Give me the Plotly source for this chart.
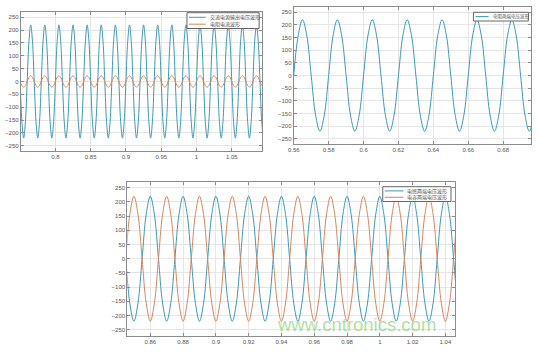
import plotly.graph_objects as go

# ---------------- data ----------------
# one 20 ms cycle, sampled every 2.5 ms (values in V or A)
SAMPLE_STEP = 0.0025
src_voltage_cycle = [0, 156, 220, 156, 0, -156, -220, -156]      # 交流电源输出电压波形
res_current_cycle = [0, 16, 22, 16, 0, -16, -22, -16]            # 电阻电流波形
res_voltage_cycle = [0, 156, 220, 156, 0, -156, -220, -156]      # 电阻两端电压波形
ind_voltage_cycle = [220, 156, 0, -156, -220, -156, 0, 156]      # 电感两端电压波形
cap_voltage_cycle = [-220, -156, 0, 156, 220, 156, 0, -156]      # 电容两端电压波形

# time windows (s) of the three recordings
tl_window = [0.74, 1.10]
tr_window = [0.56, 0.70]
bt_window = [0.84, 1.05]

tl_xticks = [0.8, 0.85, 0.9, 0.95, 1, 1.05]
tr_xticks = [0.56, 0.58, 0.6, 0.62, 0.64, 0.66, 0.68]
bt_xticks = [0.86, 0.88, 0.9, 0.92, 0.94, 0.96, 0.98, 1, 1.02, 1.04]
yticks = [-250, -200, -150, -100, -50, 0, 50, 100, 150, 200, 250]

names = {
    "src": "交流电源输出电压波形",
    "resI": "电阻电流波形",
    "resV": "电阻两端电压波形",
    "ind": "电感两端电压波形",
    "cap": "电容两端电压波形",
}


def series(cycle, window):
    n = int(round((window[1] - window[0]) / SAMPLE_STEP)) + 1
    t = [window[0] + k * SAMPLE_STEP for k in range(n)]
    v = [cycle[k % len(cycle)] for k in range(n)]
    return t, v


BLUE = "#3b9ab8"
ORANGE = "#d9865c"

fig = go.Figure()

traces = [
    (src_voltage_cycle, tl_window, "src", BLUE, "x", "y"),
    (res_current_cycle, tl_window, "resI", ORANGE, "x", "y"),
    (res_voltage_cycle, tr_window, "resV", BLUE, "x2", "y2"),
    (ind_voltage_cycle, bt_window, "ind", BLUE, "x3", "y3"),
    (cap_voltage_cycle, bt_window, "cap", ORANGE, "x3", "y3"),
]
for cyc, win, key, col, xa, ya in traces:
    t, v = series(cyc, win)
    fig.add_trace(go.Scatter(x=t, y=v, name=names[key], mode="lines",
                             line=dict(color=col, width=1, shape="spline"),
                             xaxis=xa, yaxis=ya, showlegend=False))

W, H = 538, 352
tickfont = dict(family="Liberation Sans, Arial, sans-serif", size=6, color="#555")
axis_common = dict(showline=True, linecolor="#8c8c8c", linewidth=1, mirror="ticks",
                   ticks="inside", ticklen=3, tickcolor="#8c8c8c",
                   showgrid=True, gridcolor="#e6e6e6", gridwidth=1,
                   zeroline=False, tickfont=tickfont)


def xd(a, b):
    return [a / W, b / W]


def yd(top, bottom):
    return [1 - bottom / H, 1 - top / H]


fig.update_layout(
    width=W, height=H, margin=dict(l=0, r=0, t=0, b=0),
    paper_bgcolor="white", plot_bgcolor="white", showlegend=False,
    xaxis=dict(domain=xd(15, 259), range=[0.751, 1.093], tickvals=tl_xticks,
               anchor="y", **axis_common),
    yaxis=dict(domain=yd(12, 151), range=[-270, 270], tickvals=yticks,
               anchor="x", **axis_common),
    xaxis2=dict(domain=xd(291, 531), range=[0.56, 0.696], tickvals=tr_xticks,
                anchor="y2", **axis_common),
    yaxis2=dict(domain=yd(7, 144), range=[-270, 270], tickvals=yticks,
                anchor="x2", **axis_common),
    xaxis3=dict(domain=xd(122.7, 454.3), range=[0.846, 1.046], tickvals=bt_xticks,
                anchor="y3", **axis_common),
    yaxis3=dict(domain=yd(182, 335.5), range=[-270, 270], tickvals=yticks,
                anchor="x3", **axis_common),
)

# ---------------- compact MATLAB-style legend boxes (decoration) ----------------
legend_boxes = [
    # box (x0, x1, y0, y1) px, line (x0, x1), text x, font size, rows [(y, key, colour)]
    dict(box=(183, 256, 12.7, 28.5), line=(185, 202), tx=204, fs=5,
         rows=[(17.3, "src", BLUE), (24.2, "resI", ORANGE)]),
    dict(box=(472.7, 528.3, 12.3, 21), line=(475, 488), tx=490, fs=4.5,
         rows=[(16.6, "resV", BLUE)]),
    dict(box=(381, 450, 186.7, 201.5), line=(383, 402), tx=404, fs=5,
         rows=[(190.9, "ind", BLUE), (197.3, "cap", ORANGE)]),
]
for lb in legend_boxes:
    x0, x1, y0, y1 = lb["box"]
    fig.add_shape(type="rect", xref="paper", yref="paper",
                  x0=x0 / W, x1=x1 / W, y0=1 - y1 / H, y1=1 - y0 / H,
                  line=dict(color="#666", width=1), fillcolor="white", layer="above")
    for ry, key, col in lb["rows"]:
        fig.add_shape(type="line", xref="paper", yref="paper",
                      x0=lb["line"][0] / W, x1=lb["line"][1] / W,
                      y0=1 - ry / H, y1=1 - ry / H,
                      line=dict(color=col, width=1), layer="above")
        fig.add_annotation(text=names[key], xref="paper", yref="paper",
                           x=lb["tx"] / W, y=1 - ry / H, xanchor="left", yanchor="middle",
                           showarrow=False,
                           font=dict(family="Noto Sans CJK SC", size=lb["fs"], color="#555"))

fig.add_annotation(text="www.cntronics.com", xref="paper", yref="paper",
                   x=437 / W, y=1 - 337 / H, showarrow=False,
                   font=dict(family="Liberation Sans, Arial, sans-serif", size=18.5,
                             color="rgba(120,205,100,0.6)"))

fig.write_html("out.html")
